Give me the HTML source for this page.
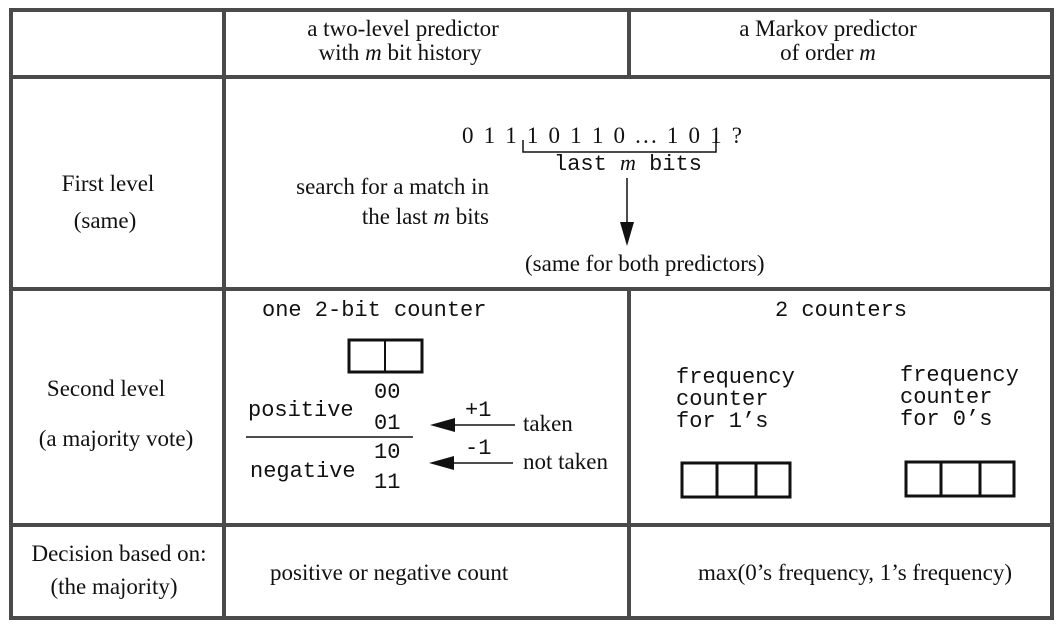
<!DOCTYPE html>
<html><head><meta charset="utf-8"><style>
html,body{margin:0;padding:0;background:#fff;}
svg{display:block;}
.s{font-family:"Liberation Serif",serif;font-size:23px;fill:#111;}
.m{font-family:"Liberation Mono",monospace;font-size:22px;fill:#111;}
</style></head><body>
<svg width="1061" height="631" viewBox="0 0 1061 631" xmlns="http://www.w3.org/2000/svg">
<g stroke="#4a4a4a" stroke-width="4" fill="none">
<rect x="11" y="10" width="1041" height="608"/>
<line x1="11" y1="77" x2="1052" y2="77"/>
<line x1="11" y1="289" x2="1052" y2="289"/>
<line x1="11" y1="525" x2="1052" y2="525"/>
<line x1="224" y1="10" x2="224" y2="618"/>
<line x1="629" y1="10" x2="629" y2="77"/>
<line x1="629" y1="289" x2="629" y2="618"/>
</g>
<!-- header -->
<text class="s" x="403" y="36" text-anchor="middle">a two-level predictor</text>
<text class="s" x="400" y="60" text-anchor="middle">with <tspan font-style="italic">m</tspan> bit history</text>
<text class="s" x="828" y="36" text-anchor="middle">a Markov predictor</text>
<text class="s" x="828" y="60" text-anchor="middle">of order <tspan font-style="italic">m</tspan></text>
<!-- left column -->
<text class="s" x="108" y="191" text-anchor="middle">First level</text>
<text class="s" x="105" y="228" text-anchor="middle">(same)</text>
<text class="s" x="106" y="396" text-anchor="middle">Second level</text>
<text class="s" x="116" y="446" text-anchor="middle">(a majority vote)</text>
<text class="s" x="119" y="561" text-anchor="middle">Decision based on:</text>
<text class="s" x="114" y="594" text-anchor="middle">(the majority)</text>
<!-- first level -->
<text class="s" x="462" y="143" textLength="280" lengthAdjust="spacing">0 1 1 1 0 1 1 0 ... 1 0 1  ?</text>
<polyline points="523,140 523,152 716,152 716,140" fill="none" stroke="#111" stroke-width="1.5"/>
<text class="m" x="554" y="170">last <tspan font-style="italic" font-family="Liberation Serif" font-size="22">m</tspan> bits</text>
<text class="s" x="489" y="194" text-anchor="end">search for a match in</text>
<text class="s" x="489" y="224" text-anchor="end">the last <tspan font-style="italic">m</tspan> bits</text>
<line x1="627" y1="178" x2="627" y2="225" stroke="#111" stroke-width="1.5"/>
<polygon points="620,222 634,222 627,246" fill="#111"/>
<text class="s" x="525" y="271">(same for both predictors)</text>
<!-- second level left -->
<text class="m" x="262" y="316">one 2-bit counter</text>
<rect x="349" y="340" width="73" height="32" fill="none" stroke="#111" stroke-width="3"/>
<line x1="385" y1="340" x2="385" y2="372" stroke="#111" stroke-width="2"/>
<text class="m" x="374" y="398">00</text>
<text class="m" x="248" y="416">positive</text>
<text class="m" x="374" y="429">01</text>
<line x1="246" y1="437" x2="413" y2="437" stroke="#111" stroke-width="1.5"/>
<text class="m" x="374" y="458">10</text>
<text class="m" x="250" y="477">negative</text>
<text class="m" x="374" y="488">11</text>
<line x1="450" y1="425" x2="515" y2="425" stroke="#111" stroke-width="1.5"/>
<polygon points="430,425 455,418 455,432" fill="#111"/>
<text class="m" x="465" y="416">+1</text>
<text class="s" x="523" y="431">taken</text>
<line x1="450" y1="463" x2="513" y2="463" stroke="#111" stroke-width="1.5"/>
<polygon points="429,463 454,456 454,470" fill="#111"/>
<text class="m" x="465" y="454">-1</text>
<text class="s" x="523" y="469">not taken</text>
<!-- second level right -->
<text class="m" x="775" y="316">2 counters</text>
<text class="m" x="676" y="383">frequency</text>
<text class="m" x="676" y="405">counter</text>
<text class="m" x="676" y="427">for 1’s</text>
<text class="m" x="900" y="381">frequency</text>
<text class="m" x="900" y="403">counter</text>
<text class="m" x="900" y="425">for 0’s</text>
<g fill="none" stroke="#111" stroke-width="3">
<rect x="682" y="463" width="108" height="34"/>
<line x1="717" y1="463" x2="717" y2="497"/>
<line x1="756" y1="463" x2="756" y2="497"/>
<rect x="906" y="462" width="108" height="34"/>
<line x1="941" y1="462" x2="941" y2="496"/>
<line x1="980" y1="462" x2="980" y2="496"/>
</g>
<!-- decision row -->
<text class="s" x="270" y="580">positive or negative count</text>
<text class="s" x="698" y="580">max(0’s frequency, 1’s frequency)</text>
</svg>
</body></html>
